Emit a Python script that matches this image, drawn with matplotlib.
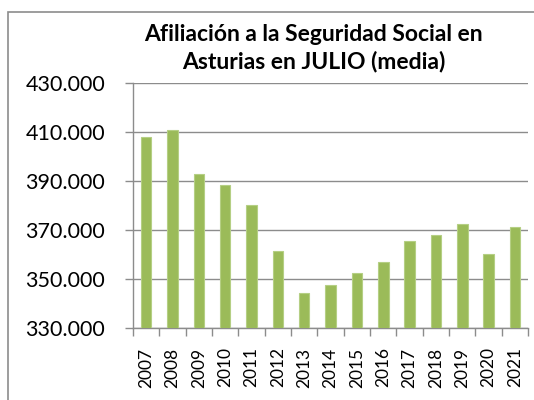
import matplotlib.pyplot as plt
from matplotlib.patches import Rectangle
from matplotlib.ticker import FuncFormatter

years = ['2007', '2008', '2009', '2010', '2011', '2012', '2013', '2014',
         '2015', '2016', '2017', '2018', '2019', '2020', '2021']
afiliados = [407700, 410900, 392900, 388200, 380100, 361400, 344400, 347700,
             352400, 357100, 365500, 368100, 372300, 360200, 371200]
yticks = [330000, 350000, 370000, 390000, 410000, 430000]
title = 'Afiliación a la Seguridad Social en\nAsturias en JULIO (media)'

plt.rcParams['font.family'] = ['Lato', 'DejaVu Sans']

fig = plt.figure(figsize=(5.34, 4), dpi=100)
ax = fig.add_axes([0.249, 0.18, 0.74, 0.613])

# chart border (cut off at right and bottom like the screenshot)
fig.patches.append(Rectangle((8/534, -0.2), 1.2, 0.2 + 1 - 12/400,
                             transform=fig.transFigure, fill=False,
                             edgecolor='#8c8c8c', linewidth=1.2, clip_on=False))

x = range(len(years))
ax.bar(x, afiliados, width=0.4, color='#9bbb59', edgecolor='#b5cf84',
       linewidth=0.8, zorder=3)

ax.set_ylim(yticks[0], yticks[-1])
ax.set_xlim(-0.5, len(years) - 0.5)
ax.set_yticks(yticks)
ax.yaxis.set_major_formatter(FuncFormatter(lambda v, p: f'{int(v):,}'.replace(',', '.')))
ax.grid(axis='y', color='#8c8c8c', linewidth=1.0, zorder=0)

ax.set_xticks(list(x))
ax.set_xticklabels(years, rotation=90, fontsize=12.5)
ax.set_xticks([i + 0.5 for i in range(-1, len(years))], minor=True)
ax.tick_params(axis='x', which='major', length=0, pad=14)
ax.tick_params(axis='x', which='minor', length=6, color='#8c8c8c', width=1.0)
ax.tick_params(axis='y', labelsize=15.5, length=6, color='#8c8c8c', width=1.0, pad=14)

for s in ['top', 'right']:
    ax.spines[s].set_visible(False)
for s in ['left', 'bottom']:
    ax.spines[s].set_color('#8c8c8c')
    ax.spines[s].set_linewidth(1.0)

fig.text(0.587, 0.88, title, ha='center', va='center', fontsize=16.5,
         fontweight='bold', linespacing=1.3)

fig.savefig('out.png', dpi=100)
